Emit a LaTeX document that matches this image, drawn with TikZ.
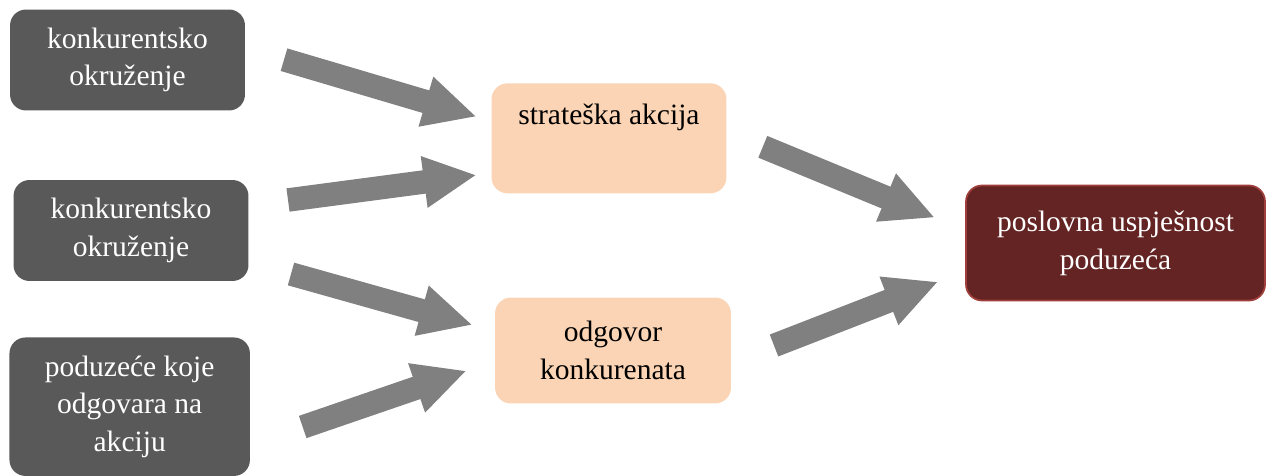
\documentclass[tikz,border=0pt]{standalone}
\usepackage{fontspec}
\setmainfont{Liberation Serif}
\usetikzlibrary{arrows.meta}

\definecolor{envgray}{HTML}{595959}
\definecolor{peach}{HTML}{FAD4B4}
\definecolor{wine}{HTML}{632423}
\definecolor{wineline}{HTML}{A03E3C}
\definecolor{arrowgray}{HTML}{808080}

\begin{document}
\begin{tikzpicture}[x=0.02cm, y=-0.02cm,
  every node/.style={font=\fontsize{16.8}{21.5}\selectfont, align=center,
    inner sep=0pt, rounded corners=0.32cm},
  env/.style={fill=envgray, text=white, minimum width=4.7cm, minimum height=2.02cm},
  act/.style={fill=peach, text=black, minimum width=4.7cm, minimum height=2.2cm},
  perf/.style={fill=wine, draw=wineline, line width=1pt, text=white,
    minimum width=5.98cm, minimum height=2.3cm},
  bigarrow/.style={draw=arrowgray, fill=arrowgray, line width=0.47cm,
    -{Triangle[width=0.96cm, length=1.06cm]}}]
  \useasboundingbox (0,0) rectangle (1266,476);

  \node [env] (env_1) at (127.5,60) {konkurentsko\\okruženje};
  \node [env] (env_2) at (131,230.5) {konkurentsko\\okruženje};
  \node [env, minimum width=4.81cm, minimum height=2.77cm] (firm) at (129.7,406.7)
    {poduzeće koje\\odgovara na\\akciju};

  \node [act] (action) at (609,138.3) {strateška akcija\\ \strut};
  \node [act, minimum width=4.72cm, minimum height=2.12cm] (response) at (613,350.5)
    {odgovor\\konkurenata};

  \node [perf] (result) at (1115.5,243) {poslovna uspješnost\\poduzeća};

  \coordinate (t_1) at (284,59.7);    \coordinate (h_1) at (476.7,116.7);
  \coordinate (t_2) at (288,200);     \coordinate (h_2) at (476.7,175);
  \coordinate (t_3) at (291,274);     \coordinate (h_3) at (472.7,325);
  \coordinate (t_4) at (302.7,427);   \coordinate (h_4) at (466.7,370.7);
  \coordinate (t_5) at (762.8,146.8); \coordinate (h_5) at (935,217.7);
  \coordinate (t_6) at (774,345.5);   \coordinate (h_6) at (938.3,281.7);

  \foreach \i in {1,...,6}
    \draw [bigarrow] (t_\i) -- (h_\i);

\end{tikzpicture}
\end{document}
